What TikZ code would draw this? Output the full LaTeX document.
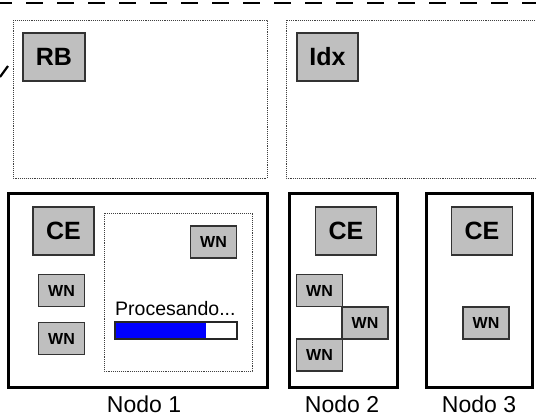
\documentclass[tikz,border=0pt]{standalone}
\usepackage{fontspec}
\setmainfont{Liberation Sans}
\begin{document}
\begin{tikzpicture}[x=1pt,y=-1pt,
  graybox/.style={draw=black!80,fill=black!25,line width=1.1pt,inner sep=0pt},
  bigbox/.style={graybox,minimum width=61pt,minimum height=48pt,font=\fontsize{25}{27}\selectfont\bfseries},
  wnbox/.style={graybox,minimum width=46pt,minimum height=32pt,font=\fontsize{16}{18}\selectfont\bfseries},
  dotbox/.style={draw=black!75,densely dotted,line width=0.9pt},
  nodebox/.style={draw=black,line width=3pt},
  nlabel/.style={font=\fontsize{23}{25}\selectfont,inner sep=0pt}]
\useasboundingbox (0,0) rectangle (536,418);
\clip (0,0) rectangle (536,418);
% top dashed line
\coordinate (tl) at (-5,3);
\coordinate (tr) at (545,3);
\draw[line width=1.6pt,dash pattern=on 17pt off 14pt] (tl) -- (tr);
% short diagonal line
\coordinate (d1) at (0,77);
\coordinate (d2) at (8,66);
\draw[line width=2.2pt] (d1) -- (d2);
% dotted upper boxes
\draw[dotbox] (13,20) rectangle (267,178);
\draw[dotbox] (286,20) rectangle (545,178);
\node[bigbox,minimum width=62pt] (rb) at (54,57) {RB};
\node[bigbox] (idx) at (327.5,57) {Idx};
% node boxes
\draw[nodebox] (8,193) rectangle (267,387);
\draw[nodebox] (289,193) rectangle (397,387);
\draw[nodebox] (426,193) rectangle (532,387);
% node 1 contents
\node[bigbox] (ce1) at (63.5,231) {CE};
\node[wnbox] (wn1a) at (61.5,290.5) {WN};
\node[wnbox] (wn1b) at (61.5,338.5) {WN};
\draw[dotbox] (104,213) rectangle (252,371);
\node[wnbox] (wn1c) at (213.5,242) {WN};
\node[anchor=base west,inner sep=0pt,font=\fontsize{19.5}{21}\selectfont] (proc) at (115,315) {Procesando...};
\fill[blue] (115,322) rectangle (206,339);
\draw[black!85,line width=1.1pt] (115,322) rectangle (237,339);
% node 2 contents
\node[bigbox] (ce2) at (346,231) {CE};
\node[wnbox] (wn2a) at (319.5,290.5) {WN};
\node[wnbox] (wn2b) at (365,323) {WN};
\node[wnbox] (wn2c) at (319.5,355) {WN};
% node 3 contents
\node[bigbox] (ce3) at (482,231) {CE};
\node[wnbox] (wn3) at (486,323) {WN};
% labels
\node[nlabel] (n1) at (144,404) {Nodo 1};
\node[nlabel] (n2) at (342,404) {Nodo 2};
\node[nlabel] (n3) at (479,404) {Nodo 3};
\end{tikzpicture}
\end{document}
